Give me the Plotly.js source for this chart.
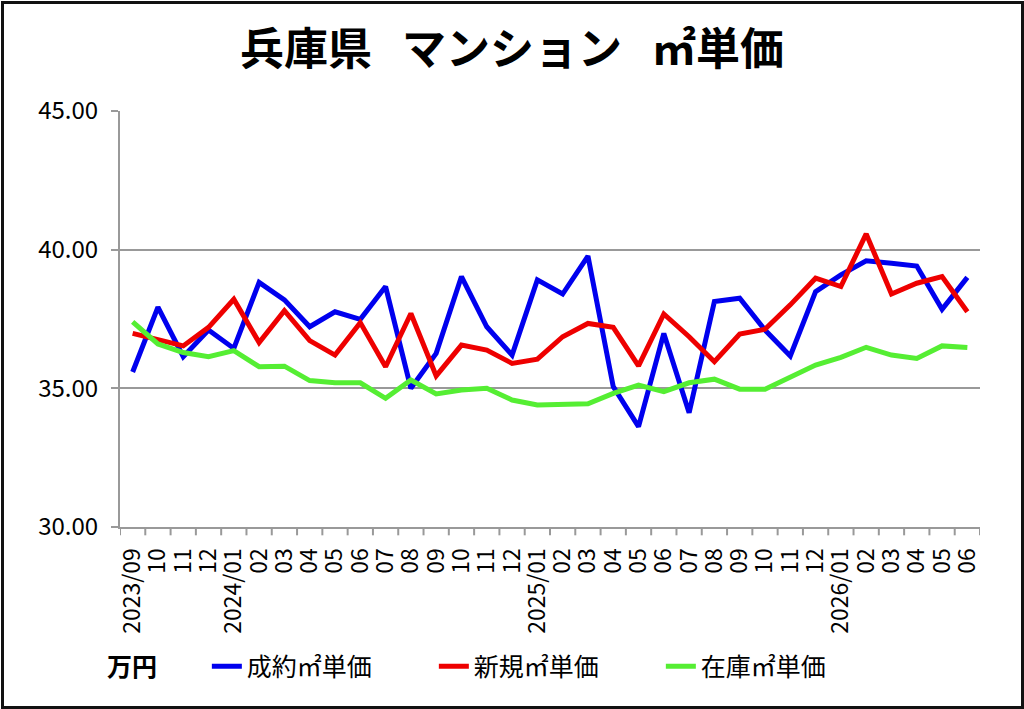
<!DOCTYPE html>
<html>
<head>
<meta charset="utf-8">
<script src="https://cdn.plot.ly/plotly-3.0.1.min.js"></script>
<style>
  body { margin: 0; background: #fff; }
  #wrap { position: relative; width: 1024px; height: 709px; }
  #chart { width: 1024px; height: 709px; }
  #frame {
    position: absolute; left: 1px; top: 1px; width: 1017px; height: 702px;
    border: 3px solid #111; pointer-events: none;
  }
</style>
</head>
<body>
<div id="wrap">
  <div id="chart"></div>
  <div id="frame"></div>
</div>
<script>
// months 2023/09 .. 2026/06
const months = [
  '2023/09', '10', '11', '12',
  '2024/01', '02', '03', '04', '05', '06', '07', '08', '09', '10', '11', '12',
  '2025/01', '02', '03', '04', '05', '06', '07', '08', '09', '10', '11', '12',
  '2026/01', '02', '03', '04', '05', '06'
];

// 万円 / ㎡
const seiyaku = [
  35.59, 37.93, 36.14, 37.10, 36.44, 38.82, 38.19, 37.22, 37.76, 37.49, 38.67, 35.00,
  36.26, 39.03, 37.22, 36.20, 38.91, 38.40, 39.77, 35.06, 33.62, 36.98, 34.12, 38.13,
  38.25, 37.10, 36.17, 38.49, 39.09, 39.60, 39.51, 39.41, 37.85, 39.00
];
const shinki = [
  36.98, 36.74, 36.53, 37.20, 38.21, 36.65, 37.80, 36.72, 36.20, 37.37, 35.78, 37.70,
  35.45, 36.56, 36.38, 35.90, 36.05, 36.86, 37.34, 37.20, 35.81, 37.68, 36.86, 35.96,
  36.96, 37.13, 38.01, 38.97, 38.67, 40.57, 38.40, 38.79, 39.03, 37.76
];
const zaiko = [
  37.40, 36.60, 36.29, 36.14, 36.36, 35.78, 35.80, 35.28, 35.20, 35.20, 34.64, 35.30,
  34.80, 34.94, 35.00, 34.58, 34.40, 34.40, 34.44, 34.82, 35.12, 34.88, 35.20, 35.33,
  34.97, 34.97, 35.40, 35.84, 36.12, 36.48, 36.20, 36.08, 36.53, 36.47
];

const seriesNames = ['成約㎡単価', '新規㎡単価', '在庫㎡単価'];
const seriesColors = ['#0000ee', '#ee0000', '#55ee33'];

const FONT = '"Noto Sans CJK JP", "Noto Sans", sans-serif';

// category index as x so duplicate labels ('10', '02' ...) stay separate
const xs = months.map((_, i) => i);

const traces = [seiyaku, shinki, zaiko].map((ys, k) => ({
  type: 'scatter',
  mode: 'lines',
  x: xs,
  y: ys,
  name: seriesNames[k],
  line: {color: seriesColors[k], width: 5},
}));

// tick marks between months along the category axis
const boundaryTicks = [];
for (let i = 0; i <= months.length; i++) {
  boundaryTicks.push({
    type: 'line',
    xref: 'x',
    yref: 'paper',
    x0: i - 0.5, x1: i - 0.5,
    y0: 0, y1: -0.02,
    line: {color: '#999', width: 2},
  });
}

const gap = '&nbsp;&nbsp;&nbsp;';

const layout = {
  width: 1024,
  height: 709,
  margin: {l: 120, r: 44, t: 111, b: 182},
  paper_bgcolor: '#fff',
  plot_bgcolor: '#fff',
  font: {family: FONT, color: '#000'},
  title: {
    text: '<b>兵庫県' + gap + 'マンション' + gap + '㎡単価</b>',
    font: {family: FONT, size: 44, color: '#000'},
    x: 0.5,
    xanchor: 'center',
    y: 0.93,
    yanchor: 'middle',
  },
  xaxis: {
    type: 'linear',
    range: [-0.5, months.length - 0.5],
    tickmode: 'array',
    tickvals: xs,
    ticktext: months,
    tickangle: -90,
    tickfont: {family: FONT, size: 23, color: '#000'},
    ticklabelstandoff: 10,
    showgrid: false,
    zeroline: false,
    showline: true,
    linecolor: '#999',
    linewidth: 2,
    ticks: '',
    fixedrange: true,
  },
  yaxis: {
    range: [30, 45],
    dtick: 5,
    tickformat: '.2f',
    tickfont: {family: FONT, size: 24, color: '#000'},
    showgrid: true,
    gridcolor: '#999',
    gridwidth: 2,
    zeroline: false,
    showline: true,
    linecolor: '#999',
    linewidth: 2,
    ticks: 'outside',
    ticklen: 7,
    tickcolor: '#999',
    tickwidth: 2,
    ticklabelstandoff: 8,
  },
  shapes: boundaryTicks,
  showlegend: true,
  legend: {
    orientation: 'h',
    xref: 'container',
    yref: 'container',
    x: 0.202,
    xanchor: 'left',
    y: 0.06,
    yanchor: 'middle',
    font: {family: FONT, size: 25, color: '#000'},
    entrywidth: 182,
    entrywidthmode: 'pixels',
    bgcolor: 'rgba(0,0,0,0)',
  },
  annotations: [{
    text: '<b>万円</b>',
    xref: 'paper',
    yref: 'paper',
    x: -0.018,
    y: -0.332,
    xanchor: 'left',
    yanchor: 'middle',
    showarrow: false,
    font: {family: FONT, size: 25, color: '#000'},
  }],
};

Plotly.newPlot('chart', traces, layout, {staticPlot: true, displayModeBar: false});
</script>
</body>
</html>
